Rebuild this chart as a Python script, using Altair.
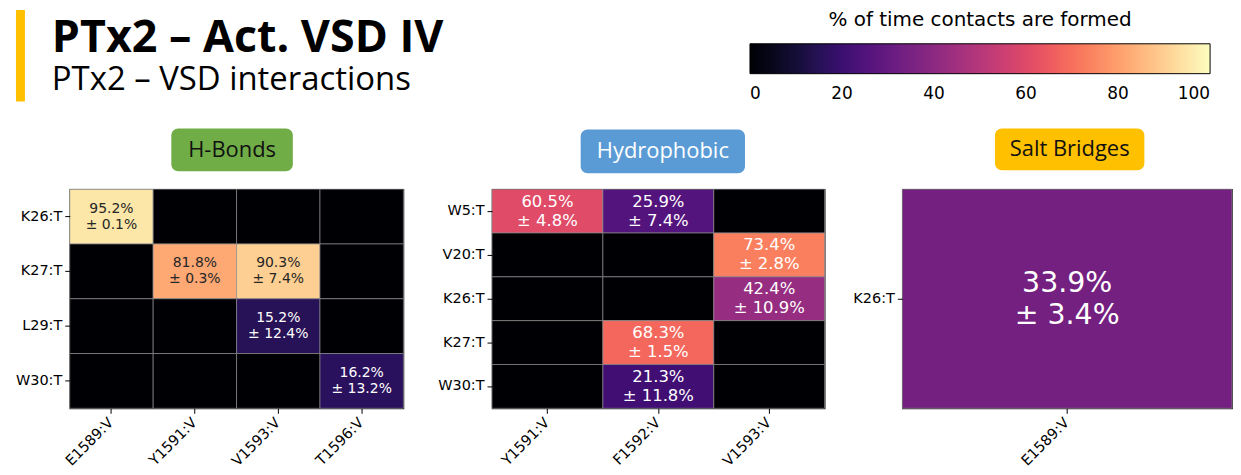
import altair as alt
import pandas as pd

# ---- data ----
hb_rows = ["K26:T", "K27:T", "L29:T", "W30:T"]
hb_cols = ["E1589:V", "Y1591:V", "V1593:V", "T1596:V"]
hb_values = [[95.2, 0, 0, 0], [0, 81.8, 90.3, 0], [0, 0, 15.2, 0], [0, 0, 0, 16.2]]
hb_errors = [[0.1, 0, 0, 0], [0, 0.3, 7.4, 0], [0, 0, 12.4, 0], [0, 0, 0, 13.2]]

hp_rows = ["W5:T", "V20:T", "K26:T", "K27:T", "W30:T"]
hp_cols = ["Y1591:V", "F1592:V", "V1593:V"]
hp_values = [[60.5, 25.9, 0], [0, 0, 73.4], [0, 0, 42.4], [0, 68.3, 0], [0, 21.3, 0]]
hp_errors = [[4.8, 7.4, 0], [0, 0, 2.8], [0, 0, 10.9], [0, 1.5, 0], [0, 11.8, 0]]

sb_rows = ["K26:T"]
sb_cols = ["E1589:V"]
sb_values = [[33.9]]
sb_errors = [[3.4]]

legend_ticks = [0, 20, 40, 60, 80, 100]
title_text = "PTx2 – Act. VSD IV"
subtitle_text = "PTx2 – VSD interactions"
legend_title = "% of time contacts are formed"


def grid_df(rows, cols, values, errors):
    recs = []
    for i, r in enumerate(rows):
        for j, c in enumerate(cols):
            v = values[i][j]
            e = errors[i][j]
            recs.append({"row": r, "col": c, "value": v,
                         "label": f"{v:.1f}%\n± {e:.1f}%" if v > 0 else ""})
    return pd.DataFrame(recs)


color_scale = alt.Scale(scheme="magma", domain=[0, 100])
legend = alt.Legend(
    orient="none", legendX=683, legendY=-180, direction="horizontal",
    title=legend_title, titleFont="DejaVu Sans", titleFontSize=20,
    titleFontWeight="normal", titleColor="black", titleAnchor="middle",
    titleLimit=700, titlePadding=14,
    gradientLength=462, gradientThickness=30,
    gradientStrokeColor="black", gradientStrokeWidth=1,
    values=legend_ticks, labelFont="DejaVu Sans", labelFontSize=17,
    labelColor="black", labelOffset=12, labelAlign="center",
)


def heatmap(rows, cols, values, errors, fs, lh, badge, bcol, btcol, box):
    df = grid_df(rows, cols, values, errors)
    base = alt.Chart(df)
    x = alt.X("col:N", sort=cols, scale=alt.Scale(paddingInner=0, paddingOuter=0),
              axis=alt.Axis(title=None, labelAngle=-45, labelAlign="right",
                            labelBaseline="middle", labelPadding=7))
    y = alt.Y("row:N", sort=rows, scale=alt.Scale(paddingInner=0, paddingOuter=0),
              axis=alt.Axis(title=None, labelPadding=3))
    rect = base.mark_rect(stroke="#8a8a8a", strokeWidth=0.7).encode(
        x=x, y=y, color=alt.Color("value:Q", scale=color_scale, legend=legend))
    text = base.mark_text(font="DejaVu Sans", fontSize=fs, lineHeight=lh, dy=-lh / 2,
                          lineBreak="\n", baseline="middle", align="center").encode(
        x=x, y=y, text="label:N",
        color=alt.condition("datum.value > 80", alt.value("#262626"), alt.value("white")))
    bx, bx2, by, by2 = box
    bdf = pd.DataFrame({"t": [badge]})
    brect = alt.Chart(bdf).mark_rect(cornerRadius=7, color=bcol).encode(
        x=alt.value(bx), x2=alt.value(bx2), y=alt.value(by), y2=alt.value(by2))
    btext = alt.Chart(bdf).mark_text(font="Open Sans", fontSize=22, color=btcol,
                                     baseline="middle", align="center").encode(
        x=alt.value((bx + bx2) / 2), y=alt.value((by + by2) / 2), text="t:N")
    return [rect, text, brect, btext]


p1_layers = heatmap(hb_rows, hb_cols, hb_values, hb_errors, 14, 16,
                    "H-Bonds", "#70AD47", "#111111", (102, 224, -61, -18))
hdr = pd.DataFrame({"t": [title_text], "s": [subtitle_text]})
ybar = alt.Chart(hdr).mark_rect(color="#FFC000").encode(
    x=alt.value(-54), x2=alt.value(-45), y=alt.value(-180), y2=alt.value(-88))
ttl = alt.Chart(hdr).mark_text(font="Open Sans", fontSize=45, fontWeight="bold",
                               align="left", baseline="alphabetic", color="black").encode(
    x=alt.value(-18), y=alt.value(-138), text="t:N")
sub = alt.Chart(hdr).mark_text(font="Open Sans", fontSize=33, align="left",
                               baseline="alphabetic", color="black").encode(
    x=alt.value(-18), y=alt.value(-100), text="s:N")

frame = alt.ViewBackground(stroke="#222222", strokeWidth=1.2)

p1 = alt.layer(*p1_layers, ybar, ttl, sub).properties(width=335, height=220, view=frame)
p2 = alt.layer(*heatmap(hp_rows, hp_cols, hp_values, hp_errors, 16.5, 19,
                        "Hydrophobic", "#5B9BD5", "white", (89, 254, -60, -16))
               ).properties(width=334, height=220, view=frame)
p3 = alt.layer(*heatmap(sb_rows, sb_cols, sb_values, sb_errors, 28.5, 32,
                        "Salt Bridges", "#FFC000", "#111111", (93, 243, -61, -19))
               ).properties(width=331, height=220, view=frame)

sp_df = pd.DataFrame({"s": [0]})
sp1 = alt.Chart(sp_df).mark_point(opacity=0).properties(width=89, height=220)
sp2 = alt.Chart(sp_df).mark_point(opacity=0).properties(width=78, height=220)

chart = alt.hconcat(p1, sp1, p2, sp2, p3, spacing=0, bounds="flush").resolve_scale(
    color="shared"
).properties(
    padding={"left": 6, "top": 0, "right": 0, "bottom": 0}
).configure_view(stroke="transparent").configure_axis(
    labelFont="DejaVu Sans", labelFontSize=14.5, labelColor="black",
    tickColor="black", tickSize=5, tickWidth=1, domain=False, grid=False
)

chart.save("out.html", embed_options={"renderer": "svg", "actions": False})
